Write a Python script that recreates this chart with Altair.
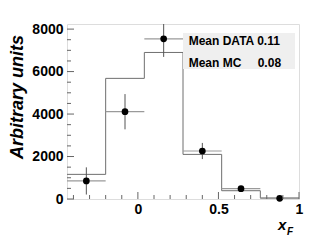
import altair as alt
import pandas as pd

# ---- data ----
bin_edges = [-0.44, -0.2, 0.04, 0.28, 0.52, 0.76, 1.0]
mc_values = [1160, 5680, 6900, 2100, 390, 50]
data_values = [850, 4110, 7540, 2260, 485, 30]
data_errors = [640, 830, 850, 380, 120, 40]
x_tick_labels = [0, 0.5, 1]
y_tick_labels = [0, 2000, 4000, 6000, 8000]
x_minor_ticks = [-0.4, -0.3, -0.2, -0.1, 0.1, 0.2, 0.3, 0.4, 0.6, 0.7, 0.8, 0.9]
y_minor_ticks = [500, 1000, 1500, 2500, 3000, 3500, 4500, 5000, 5500, 6500, 7000, 7500]
legend_lines = ["Mean DATA 0.11", "Mean MC"]
legend_mc_value = "0.08"

W, H = 232, 175
XDOM = [-0.44, 1.0]
YDOM = [0, 8240]

xs = alt.Scale(domain=XDOM, nice=False, zero=False)
ys = alt.Scale(domain=YDOM, nice=False, zero=False)

mc_df = pd.DataFrame({"x": bin_edges, "y": mc_values + [mc_values[-1]]})
centers = [(bin_edges[i] + bin_edges[i + 1]) / 2 for i in range(len(mc_values))]
d_df = pd.DataFrame({
    "x": centers,
    "lo": bin_edges[:-1],
    "hi": bin_edges[1:],
    "y": data_values,
    "ylo": [v - e for v, e in zip(data_values, data_errors)],
    "yhi": [v + e for v, e in zip(data_values, data_errors)],
})

base_x = alt.X("x:Q", scale=xs, axis=alt.Axis(values=x_tick_labels, ticks=False, domain=False,
                                               grid=False, title=None, labelFont="Liberation Sans",
                                               labelFontWeight="bold", labelFontSize=14,
                                               labelColor="black", labelPadding=3,
                                               labelFlush=False, format="~g"))
base_y = alt.Y("y:Q", scale=ys, axis=alt.Axis(values=y_tick_labels, ticks=False, domain=False,
                                               grid=False, title=None, labelFont="Liberation Sans",
                                               labelFontWeight="bold", labelFontSize=14,
                                               labelColor="black", labelPadding=4, format="d"))

mc = alt.Chart(mc_df).mark_line(interpolate="step-after", color="#6f6f6f", strokeWidth=1).encode(
    x=base_x, y=base_y)

herr = alt.Chart(d_df).mark_rule(color="#9a9a9a", strokeWidth=1.2).encode(
    x=alt.X("lo:Q", scale=xs), x2="hi:Q", y=alt.Y("y:Q", scale=ys))
verr = alt.Chart(d_df).mark_rule(color="#555555", strokeWidth=1, clip=True).encode(
    x=alt.X("x:Q", scale=xs), y=alt.Y("ylo:Q", scale=ys), y2="yhi:Q")
pts = alt.Chart(d_df).mark_point(filled=True, shape="circle", size=45, color="black", opacity=1).encode(
    x=alt.X("x:Q", scale=xs), y=alt.Y("y:Q", scale=ys))

xt_major = alt.Chart(pd.DataFrame({"v": x_tick_labels})).mark_rule(color="#666666").encode(
    x=alt.X("v:Q", scale=xs), y=alt.value(H), y2=alt.value(H - 7))
xt_minor = alt.Chart(pd.DataFrame({"v": x_minor_ticks})).mark_rule(color="#666666").encode(
    x=alt.X("v:Q", scale=xs), y=alt.value(H), y2=alt.value(H - 4))
yt_major = alt.Chart(pd.DataFrame({"v": y_tick_labels})).mark_rule(color="#666666").encode(
    y=alt.Y("v:Q", scale=ys), x=alt.value(0), x2=alt.value(7))
yt_minor = alt.Chart(pd.DataFrame({"v": y_minor_ticks})).mark_rule(color="#666666").encode(
    y=alt.Y("v:Q", scale=ys), x=alt.value(0), x2=alt.value(4))

box = alt.Chart(pd.DataFrame({"a": [0]})).mark_rect(fill="#efefef").encode(
    x=alt.value(116), x2=alt.value(228), y=alt.value(9), y2=alt.value(45))

text_style = dict(baseline="alphabetic", font="Liberation Sans", fontWeight="bold", color="black")
leg1 = alt.Chart(pd.DataFrame({"t": [legend_lines[0]]})).mark_text(
    align="left", fontSize=12, **text_style).encode(text="t:N", x=alt.value(121.7), y=alt.value(21))
leg2 = alt.Chart(pd.DataFrame({"t": [legend_lines[1]]})).mark_text(
    align="left", fontSize=12, **text_style).encode(text="t:N", x=alt.value(121.7), y=alt.value(42.5))
leg3 = alt.Chart(pd.DataFrame({"t": [legend_mc_value]})).mark_text(
    align="left", fontSize=12, **text_style).encode(text="t:N", x=alt.value(190.7), y=alt.value(42.5))

ytitle = alt.Chart(pd.DataFrame({"t": ["Arbitrary units"]})).mark_text(
    angle=270, align="center", fontStyle="italic", fontSize=18, **text_style).encode(
    text="t:N", x=alt.value(-44), y=alt.value(73))
xtitle = alt.Chart(pd.DataFrame({"t": ["x"]})).mark_text(
    align="left", fontStyle="italic", fontSize=15, **text_style).encode(
    text="t:N", x=alt.value(211), y=alt.value(206))
xsub = alt.Chart(pd.DataFrame({"t": ["F"]})).mark_text(
    align="left", fontStyle="italic", fontSize=10, **text_style).encode(
    text="t:N", x=alt.value(220), y=alt.value(211))

chart = alt.layer(mc, herr, verr, pts, xt_major, xt_minor, yt_major, yt_minor, box,
                  leg1, leg2, leg3, ytitle, xtitle, xsub).properties(
    width=W, height=H,
    autosize=alt.AutoSizeParams(type="none"),
    padding={"left": 59, "top": 16, "right": 25, "bottom": 42},
).configure_view(stroke="#7a7a7a", strokeWidth=1).configure(background="white")

chart.save("out.html", embed_options={"renderer": "svg", "actions": False})
